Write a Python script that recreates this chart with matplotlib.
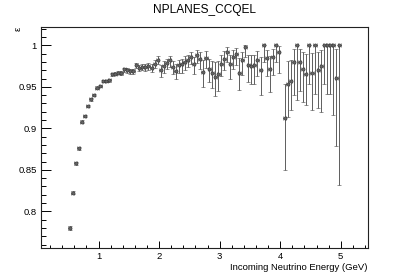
import numpy as np
import matplotlib
matplotlib.use("Agg")
import matplotlib.pyplot as plt
from matplotlib.ticker import MultipleLocator, FixedLocator

plt.rcParams['font.family'] = ['Liberation Sans', 'DejaVu Sans']

# Binning: 0.05 GeV bins from 0.5 to 5.0 GeV
bin_edges = np.linspace(0.5, 5.0, 91)
energy = 0.5 * (bin_edges[:-1] + bin_edges[1:])

efficiency = [
    0.780, 0.8225, 0.858, 0.876, 0.908, 0.915, 0.927, 0.935, 0.940, 0.949,
    0.951, 0.957, 0.957, 0.958, 0.965, 0.966, 0.967, 0.967, 0.971, 0.970,
    0.969, 0.969, 0.976, 0.973, 0.974, 0.974, 0.975, 0.973, 0.978, 0.983,
    0.970, 0.975, 0.979, 0.982, 0.974, 0.969, 0.976, 0.977, 0.980, 0.983,
    0.986, 0.978, 0.989, 0.984, 0.968, 0.985, 0.972, 0.967, 0.962, 0.965,
    0.978, 0.984, 0.992, 0.978, 0.986, 0.990, 0.967, 0.982, 0.998, 0.976,
    0.975, 0.976, 0.983, 0.970, 1.000, 0.985, 0.971, 0.986, 1.000, 0.992,
    np.nan, 0.913, 0.954, 0.957, 0.980, 1.000, 0.980, 0.972, 0.966, 1.000,
    0.967, 1.000, 0.970, 0.975, 1.000, 1.000, 1.000, 1.000, 0.961, 1.000,
]

err_low = [
    0.0025, 0.0022, 0.0020, 0.0018, 0.0016, 0.0015, 0.0015, 0.0015, 0.0015, 0.0015,
    0.0015, 0.0015, 0.0016, 0.0017, 0.0018, 0.0020, 0.0020, 0.0022, 0.0025, 0.0027,
    0.0030, 0.0030, 0.0035, 0.0040, 0.0040, 0.0045, 0.0050, 0.0050, 0.0055, 0.0060,
    0.008, 0.008, 0.007, 0.008, 0.009, 0.010, 0.009, 0.010, 0.010, 0.009,
    0.009, 0.012, 0.010, 0.012, 0.018, 0.012, 0.016, 0.018, 0.023, 0.020,
    0.015, 0.014, 0.012, 0.018, 0.015, 0.014, 0.021, 0.018, 0.012, 0.020,
    0.022, 0.022, 0.020, 0.030, 0.020, 0.022, 0.027, 0.022, 0.020, 0.025,
    0.0, 0.063, 0.040, 0.035, 0.040, 0.066, 0.035, 0.040, 0.038, 0.046,
    0.045, 0.058, 0.045, 0.055, 0.046, 0.058, 0.058, 0.084, 0.082, 0.168,
]

err_high = [
    0.0025, 0.0022, 0.0020, 0.0018, 0.0016, 0.0015, 0.0015, 0.0015, 0.0015, 0.0015,
    0.0015, 0.0015, 0.0015, 0.0016, 0.0017, 0.0018, 0.0018, 0.0020, 0.0022, 0.0024,
    0.0026, 0.0026, 0.0030, 0.0034, 0.0034, 0.0038, 0.0042, 0.0042, 0.0045, 0.0048,
    0.006, 0.006, 0.005, 0.005, 0.007, 0.008, 0.007, 0.007, 0.007, 0.006,
    0.006, 0.008, 0.006, 0.008, 0.014, 0.008, 0.012, 0.014, 0.018, 0.016,
    0.010, 0.009, 0.006, 0.011, 0.009, 0.007, 0.018, 0.010, 0.002, 0.012,
    0.013, 0.012, 0.010, 0.016, 0.000, 0.010, 0.016, 0.010, 0.000, 0.007,
    0.0, 0.041, 0.027, 0.025, 0.016, 0.000, 0.016, 0.020, 0.024, 0.000,
    0.024, 0.000, 0.022, 0.020, 0.000, 0.000, 0.000, 0.000, 0.035, 0.000,
]

title = "NPLANES_CCQEL"
xlabel = "Incoming Neutrino Energy (GeV)"
ylabel = "\u03b5"
x_ticks = [1, 2, 3, 4, 5]
x_ticklabels = ["1", "2", "3", "4", "5"]
y_ticks = [0.80, 0.85, 0.90, 0.95, 1.00]
y_ticklabels = ["0.8", "0.85", "0.9", "0.95", "1"]

W, H = 409, 277
fig = plt.figure(figsize=(W / 100, H / 100), dpi=100)
ax = fig.add_axes([41 / W, 1 - 248 / H, (368 - 41) / W, (248 - 27) / H])

eff = np.array(efficiency, dtype=float)
mask = ~np.isnan(eff)
xerr = np.diff(bin_edges) / 2
yerr = np.vstack([np.array(err_low), np.array(err_high)])

ax.errorbar(energy[mask], eff[mask], xerr=xerr[mask], yerr=yerr[:, mask],
            fmt='o', ms=2.3, mfc='#666666', mec='#333333', mew=0.4,
            ecolor='#444444', elinewidth=0.6, capsize=1.1, capthick=0.6)

ax.set_xlim(0.05, 5.45)
ax.set_ylim(0.7558, 1.0222)

ax.xaxis.set_major_locator(FixedLocator(x_ticks))
ax.set_xticklabels(x_ticklabels)
ax.xaxis.set_minor_locator(MultipleLocator(0.2))
ax.yaxis.set_major_locator(FixedLocator(y_ticks))
ax.set_yticklabels(y_ticklabels)
ax.yaxis.set_minor_locator(MultipleLocator(0.01))

ax.tick_params(axis='x', which='major', direction='in', length=4.8, width=0.7,
               labelsize=6.8, pad=3.0, top=False)
ax.tick_params(axis='x', which='minor', direction='in', length=2.4, width=0.7, top=False)
ax.tick_params(axis='y', which='major', direction='in', length=7.0, width=0.7,
               labelsize=6.8, pad=3.0, right=False)
ax.tick_params(axis='y', which='minor', direction='in', length=3.5, width=0.7, right=False)

for s in ax.spines.values():
    s.set_linewidth(0.8)
    s.set_color('#222222')

ax.set_xlabel(xlabel, fontsize=6.8, loc='right', labelpad=1.5)
ax.set_ylabel(ylabel, fontsize=6.8, loc='top', rotation=90)
ax.yaxis.set_label_coords(-0.055, 1.0)

fig.text(0.5, 1 - 10 / H, title, ha='center', va='center', fontsize=8.6)

fig.savefig("out.png", dpi=100)
